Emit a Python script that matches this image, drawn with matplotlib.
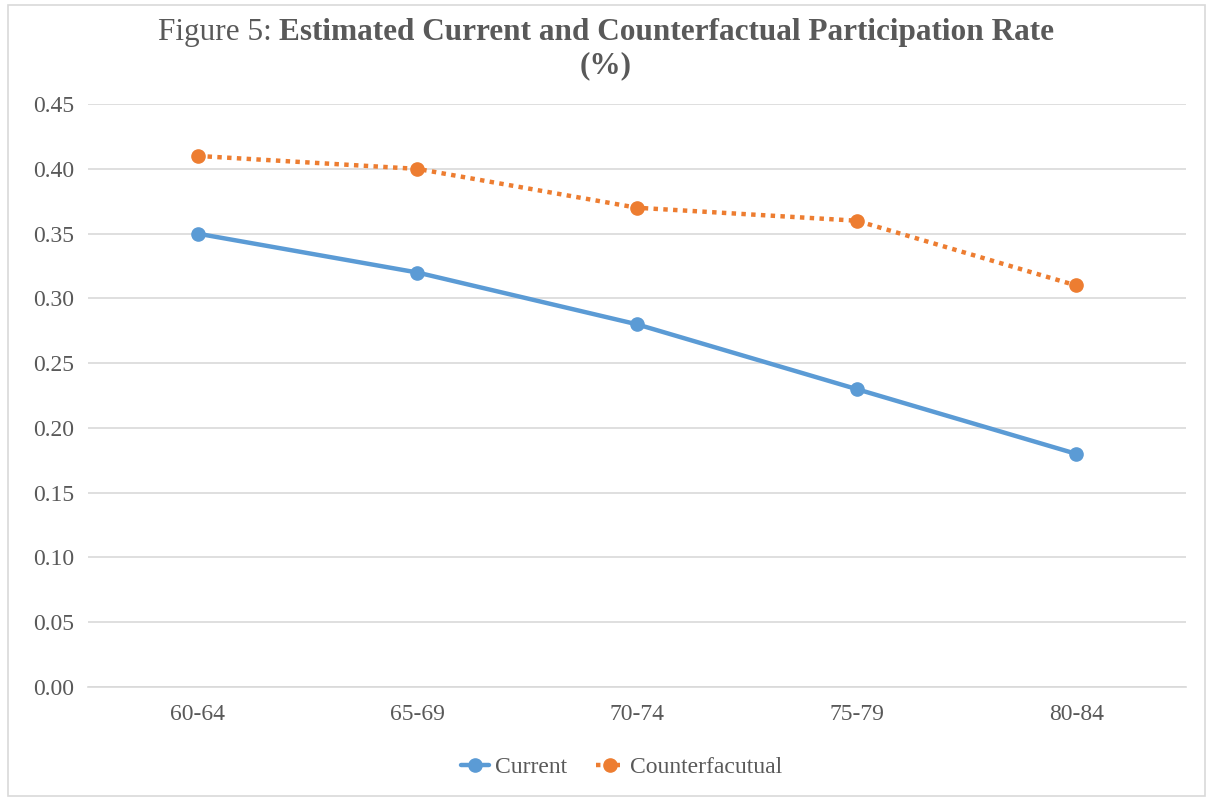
import matplotlib.pyplot as plt
from matplotlib.patches import Rectangle

# -------------------------
# Data
# -------------------------

age_groups = ["60-64", "65-69", "70-74", "75-79", "80-84"]
current = [0.35, 0.32, 0.28, 0.23, 0.18]
counterfactual = [0.41, 0.40, 0.37, 0.36, 0.31]

blue = "#5B9BD5"
orange = "#ED7D31"
grey_text = "#595959"

plt.rcParams['font.family'] = ['Liberation Serif', 'DejaVu Serif']

fig = plt.figure(figsize=(12.12, 8.01), dpi=100)
ax = fig.add_axes([0.0726, 0.1423, 0.9060, 0.7277])

x = list(range(len(age_groups)))

ax.plot(x, current, color=blue, linewidth=3.2, marker="o", markersize=9.5,
        label="Current", solid_capstyle="round", zorder=3)
ax.plot(x, counterfactual, color=orange, linewidth=3.2, linestyle=(0, (1, 1.2)),
        marker="o", markersize=9.5, label="Counterfacutual", zorder=3)

ax.set_xlim(-0.5, len(age_groups) - 0.5)
ax.set_ylim(0, 0.45)
ax.set_yticks([i * 0.05 for i in range(10)])
ax.set_yticklabels([f"{i * 0.05:.2f}" for i in range(10)])
ax.set_xticks(x)
ax.set_xticklabels(age_groups)

ax.grid(axis="y", color="#D9D9D9", linewidth=1.2)
ax.set_axisbelow(True)
for s in ["top", "right", "left"]:
    ax.spines[s].set_visible(False)
ax.spines["bottom"].set_color("#D9D9D9")
ax.spines["bottom"].set_linewidth(1.2)
ax.tick_params(axis="both", length=0, labelsize=17, colors=grey_text)
ax.tick_params(axis="y", pad=10)
ax.tick_params(axis="x", pad=12)

leg = fig.legend(loc="center", bbox_to_anchor=(0.513, 0.042), ncol=2,
                 frameon=False, fontsize=17, handlelength=1.2,
                 columnspacing=1.2, handletextpad=0.25)
for t in leg.get_texts():
    t.set_color(grey_text)

# -------------------------
# Title (normal + bold parts)
# -------------------------

renderer = fig.canvas.get_renderer()
t1 = fig.text(0, 0, "Figure 5: ", fontsize=22.5, color=grey_text)
t2 = fig.text(0, 0, "Estimated Current and Counterfactual Participation Rate",
              fontsize=22.5, fontweight="bold", color=grey_text)
w1 = t1.get_window_extent(renderer).width / fig.bbox.width
w2 = t2.get_window_extent(renderer).width / fig.bbox.width
start = 0.5 - (w1 + w2) / 2
t1.set_position((start, 0.950))
t2.set_position((start + w1, 0.950))
fig.text(0.5, 0.908, "(%)", fontsize=22.5, fontweight="bold", color=grey_text,
         ha="center")

# border around the chart
fig.patches.append(Rectangle((0.007, 0.006), 0.987, 0.988, transform=fig.transFigure,
                             fill=False, edgecolor="#D9D9D9", linewidth=1.2))

plt.savefig("out.png", dpi=100)
